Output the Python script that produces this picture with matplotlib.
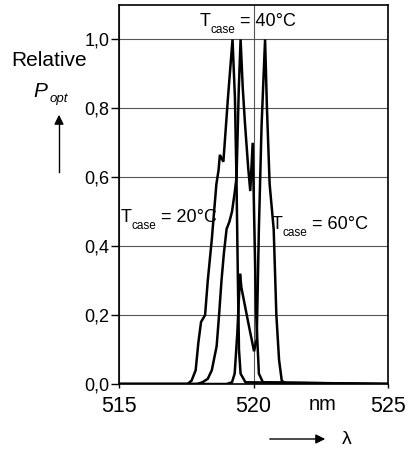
import numpy as np
import matplotlib.pyplot as plt

plt.rcParams['font.family'] = ['Liberation Sans', 'DejaVu Sans']

# spectra (wavelength nm, relative power)
wl_20 = [515.0, 517.55, 517.7, 517.85, 517.95, 518.05, 518.2, 518.3, 518.45, 518.62,
         518.7, 518.75, 518.88, 519.05, 519.22, 519.31, 519.37, 519.42, 519.46, 519.52,
         519.7, 525.0]
p_20 = [0.0, 0.0, 0.01, 0.04, 0.12, 0.18, 0.2, 0.3, 0.42, 0.58,
        0.62, 0.665, 0.645, 0.83, 1.0, 0.83, 0.58, 0.3, 0.1, 0.03,
        0.005, 0.0]

wl_40 = [515.0, 517.9, 518.1, 518.3, 518.45, 518.63, 518.72, 518.81, 518.9, 519.0,
         519.1, 519.2, 519.3, 519.37, 519.45, 519.52, 519.6, 519.68, 519.8, 519.88,
         519.97, 520.02, 520.1, 520.2, 520.35, 525.0]
p_40 = [0.0, 0.0, 0.005, 0.015, 0.04, 0.11, 0.2, 0.3, 0.38, 0.45,
        0.47, 0.5, 0.555, 0.6, 0.85, 1.0, 0.86, 0.76, 0.63, 0.56,
        0.70, 0.5, 0.2, 0.03, 0.005, 0.0]

wl_60 = [515.0, 519.0, 519.2, 519.3, 519.4, 519.5, 519.55, 519.8, 520.02, 520.12,
         520.2, 520.3, 520.43, 520.5, 520.6, 520.75, 520.85, 520.95, 521.05, 521.2,
         525.0]
p_60 = [0.0, 0.0, 0.005, 0.03, 0.15, 0.32, 0.28, 0.18, 0.095, 0.13,
        0.45, 0.75, 1.0, 0.8, 0.58, 0.45, 0.2, 0.07, 0.01, 0.0,
        0.0]

xticks = [515, 520, 525]
yticks = [0.0, 0.2, 0.4, 0.6, 0.8, 1.0]
ytick_labels = ['0,0', '0,2', '0,4', '0,6', '0,8', '1,0']
temps = ['40°C', '20°C', '60°C']

W, H = 413, 451
fig = plt.figure(figsize=(W / 100, H / 100), dpi=100)
ax = fig.add_axes([119 / W, 1 - 384 / H, (388 - 119) / W, (384 - 5) / H])

for wl, p in [(wl_20, p_20), (wl_40, p_40), (wl_60, p_60)]:
    ax.plot(wl, p, color='black', lw=1.8, solid_joinstyle='miter')

ax.set_xlim(515, 525)
ax.set_ylim(0, 1.1)
ax.set_xticks(xticks)
ax.set_xticklabels([str(t) for t in xticks], fontsize=15.5)
ax.set_yticks(yticks)
ax.set_yticklabels(ytick_labels, fontsize=13)
ax.tick_params(axis='y', direction='out', length=6, width=1, pad=1)
ax.tick_params(axis='x', direction='out', length=3, width=1, pad=6)
ax.grid(True, color='#555555', lw=0.8)
ax.set_axisbelow(True)
for s in ax.spines.values():
    s.set_linewidth(1.2)


def fig_text(px, py, s, **kw):
    # place text by pixel position (from top-left) of the figure
    fig.text(px / W, 1 - py / H, s, **kw)


def tcase(px, py, temp):
    # px, py: left edge / baseline of the "T" in pixels
    fig_text(px, py, 'T', fontsize=13, ha='left', va='baseline')
    fig_text(px + 10.5, py + 7, 'case', fontsize=8.5, ha='left', va='baseline')
    fig_text(px + 40, py, '= ' + temp, fontsize=13, ha='left', va='baseline')


tcase(200, 26, temps[0])
tcase(121, 222, temps[1])
tcase(272, 229, temps[2])

# axis captions outside the frame
fig_text(49, 60, 'Relative', fontsize=15, ha='center', va='center')
fig_text(33, 97, 'P', fontsize=15, style='italic', ha='left', va='baseline')
fig_text(50, 102, 'opt', fontsize=9.5, style='italic', ha='left', va='baseline')
fig.add_artist(plt.Line2D([59 / W, 59 / W], [1 - 172 / H, 1 - 122 / H], color='black', lw=1))
ax.annotate('', xy=(59 / W, 1 - 112 / H), xytext=(59 / W, 1 - 125 / H),
            xycoords='figure fraction', textcoords='figure fraction',
            arrowprops=dict(arrowstyle='-|>', color='black', lw=1, mutation_scale=14))

fig_text(323, 404, 'nm', fontsize=14.5, ha='center', va='center')
ax.annotate('', xy=(328 / W, 1 - 439 / H), xytext=(267 / W, 1 - 439 / H),
            xycoords='figure fraction', textcoords='figure fraction',
            arrowprops=dict(arrowstyle='-|>', color='black', lw=1, mutation_scale=14))
fig_text(347, 439, 'λ', fontsize=14, ha='center', va='center')

fig.savefig('out.png', dpi=100)
